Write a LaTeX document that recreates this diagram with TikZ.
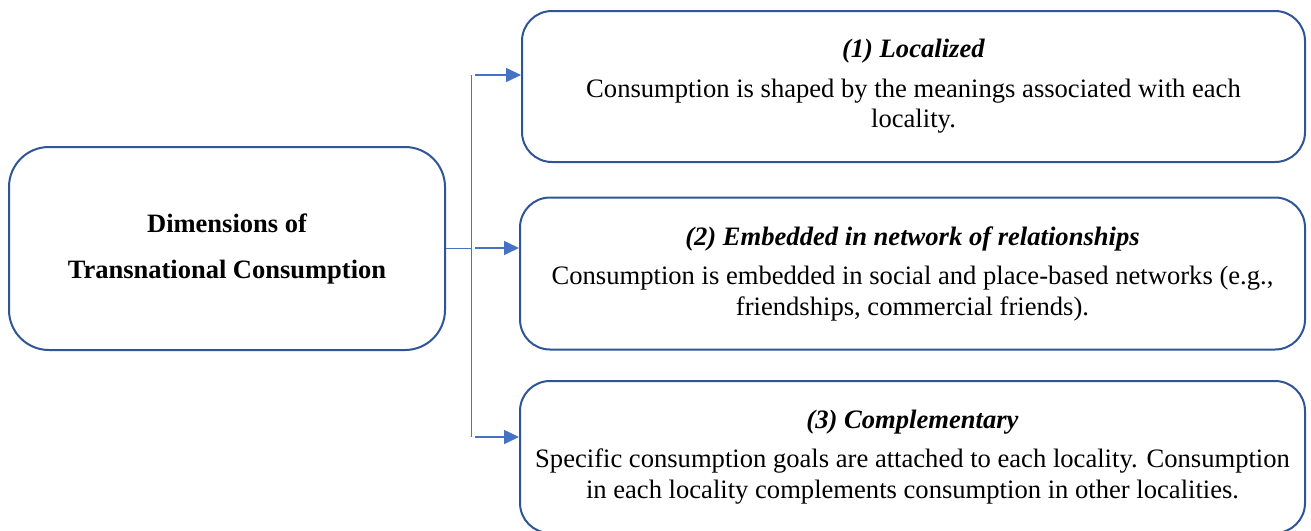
\documentclass[tikz,border=0pt]{standalone}
\usepackage{fontspec}
\setmainfont{Liberation Serif}
\usetikzlibrary{arrows.meta}
\definecolor{boxblue}{HTML}{2F5597}
\definecolor{linkblue}{HTML}{4472C4}
\tikzset{
  dimbox/.style={draw=boxblue, line width=2pt, rectangle, rounded corners=30pt, align=center, inner sep=0pt},
  link/.style={draw=linkblue, line width=1pt},
  arrowlink/.style={draw=linkblue, line width=1.6pt, -{Triangle[length=15pt,width=14pt]}, fill=linkblue},
  bodytext/.style={font=\fontsize{26.6}{30.5}\selectfont},
}
\begin{document}
\begin{tikzpicture}[x=1pt,y=-1pt]
\useasboundingbox (0,0) rectangle (1311,530);
\node[dimbox, rounded corners=40pt, minimum width=436pt, minimum height=203pt,
  font=\bfseries\fontsize{26.5}{46}\selectfont] (main) at (227,248.5)
  {Dimensions of\\Transnational Consumption};
\node[dimbox, minimum width=783pt, minimum height=151pt, bodytext] (b1) at (913.5,86.5)
  {\textbf{\textit{(1) Localized}}\\[9pt]
   Consumption is shaped by the meanings associated with each\\locality.};
\node[dimbox, minimum width=785pt, minimum height=152pt, bodytext] (b2) at (912.5,273.5)
  {\textbf{\textit{(2) Embedded in network of relationships}}\\[9pt]
   Consumption is embedded in social and place-based networks (e.g.,\\friendships, commercial friends).};
\node[dimbox, minimum width=785pt, minimum height=152pt, bodytext] (b3) at (912.5,457)
  {\textbf{\textit{(3) Complementary}}\\[9pt]
   Specific consumption goals are attached to each locality. Consumption\\in each locality complements consumption in other localities.};
\coordinate (j) at (471,248);
\coordinate (t1) at (471,75);
\coordinate (t3) at (471,437);
\draw[link] (main.east |- j) -- (j);
\draw[link] (t1) -- (t3);
\draw[arrowlink] ([xshift=4pt]t1) -- (t1 -| b1.west);
\draw[arrowlink] ([xshift=4pt]j) -- (j -| b2.west);
\draw[arrowlink] ([xshift=4pt]t3) -- (t3 -| b3.west);
\end{tikzpicture}
\end{document}
